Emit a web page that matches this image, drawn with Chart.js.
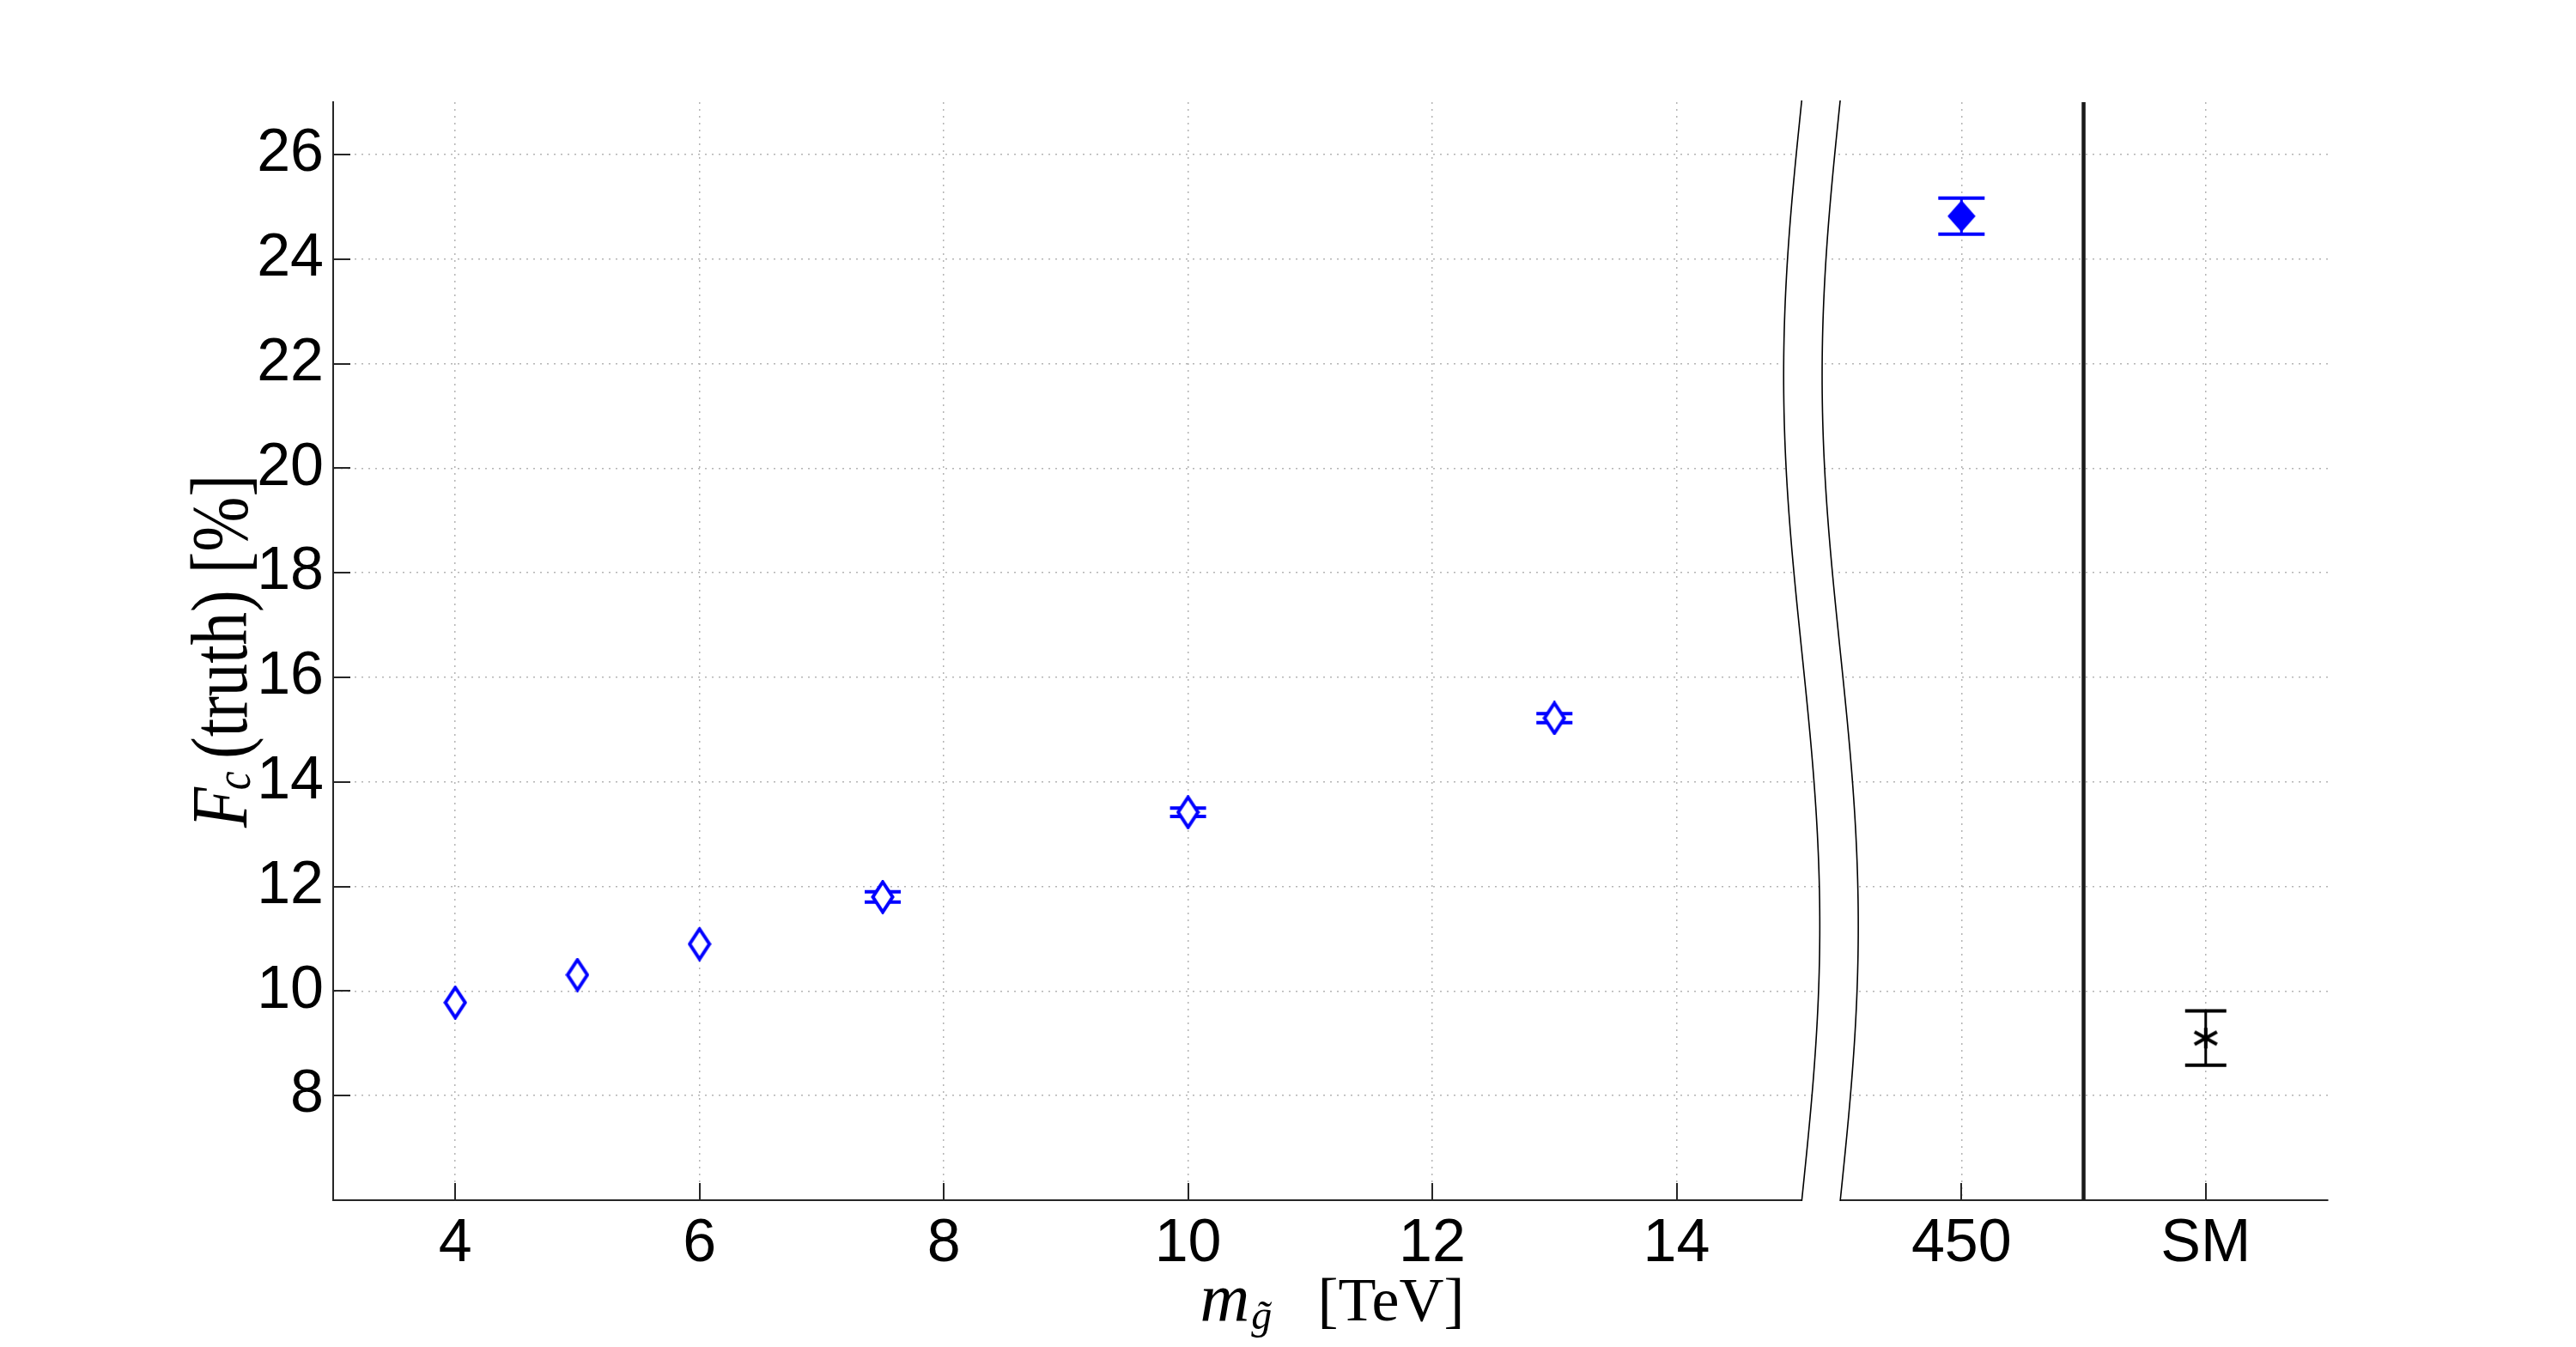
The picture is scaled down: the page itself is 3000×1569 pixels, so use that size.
<!DOCTYPE html>
<html>
<head>
<meta charset="utf-8">
<script src="https://cdn.jsdelivr.net/npm/chart.js@4.4.0/dist/chart.umd.min.js"></script>
<style>
html,body{margin:0;padding:0;background:#fff;}
canvas{display:block;}
</style>
</head>
<body>
<canvas id="fc-chart" width="3000" height="1569"></canvas>
<script>
// F_c(truth) vs gluino mass; 450 and SM sit right of the axis break
const massX   = [4, 5, 6, 7.5, 10, 13];
const fcTruth = [9.78, 10.31, 10.90, 11.80, 13.42, 15.22];
const fcErr   = [0, 0, 0, 0.10, 0.08, 0.085];
const heavyX   = [16.333];
const heavyFc  = [24.82];
const heavyErr = [0.345];
const smX   = [18.333];
const smFc  = [9.10];
const smErr = [0.52];

const xTickValues = [4, 6, 8, 10, 12, 14, 16.333, 18.333];
const xTickLabels = ['4', '6', '8', '10', '12', '14', '450', 'SM'];
const yTickValues = [8, 10, 12, 14, 16, 18, 20, 22, 24, 26];
const xRange = [3, 19.333];
const yRange = [6, 27];
const splitX = 17.333;            // solid line between 450 and SM
const breakX = [15.025, 15.34];   // edges of the axis break band
const breakAmp = 0.148;           // wiggle of the break, x units

const xTitle = ['m', 'g\u0303', '[TeV]'];
const yTitle = ['F', 'c', '(truth) [%]'];

const BLUE = '#0000ff';
const AXIS = '#262626';
const sans = '"Liberation Sans", Arial, Helvetica, sans-serif';
const serif = '"Liberation Serif", "DejaVu Serif", serif';

function diamond(w, h, lw, fill){
  const c = document.createElement('canvas'); c.width = w; c.height = h;
  const g = c.getContext('2d'), p = lw/2 + 0.5;
  g.beginPath();
  g.moveTo(w/2, p); g.lineTo(w-p, h/2); g.lineTo(w/2, h-p); g.lineTo(p, h/2);
  g.closePath();
  g.fillStyle = fill; g.fill();
  g.lineWidth = lw; g.strokeStyle = BLUE; g.stroke();
  return c;
}
function asterisk(w, h, lw){
  const c = document.createElement('canvas'); c.width = w; c.height = h;
  const g = c.getContext('2d');
  g.strokeStyle = '#000'; g.lineWidth = lw; g.lineCap = 'butt';
  g.beginPath();
  g.moveTo(w/2, 1); g.lineTo(w/2, h-1);
  g.moveTo(2, h*0.22); g.lineTo(w-2, h*0.78);
  g.moveTo(2, h*0.78); g.lineTo(w-2, h*0.22);
  g.stroke();
  return c;
}

const toPts = (xs, ys) => xs.map((x, i) => ({x: x, y: ys[i]}));

// error bars drawn under the markers
const errorBars = {
  id: 'errorBars',
  beforeDatasetsDraw(chart){
    const {ctx, scales: {x, y}} = chart;
    chart.data.datasets.forEach(ds => {
      if(!ds.errors) return;
      ctx.save();
      ctx.strokeStyle = ds.errColor;
      ds.data.forEach((p, i) => {
        const e = ds.errors[i]; if(!e) return;
        const px = x.getPixelForValue(p.x);
        const t = y.getPixelForValue(p.y + e), b = y.getPixelForValue(p.y - e);
        ctx.lineWidth = 3;
        ctx.beginPath(); ctx.moveTo(px, t); ctx.lineTo(px, b); ctx.stroke();
        ctx.lineWidth = 4;
        ctx.beginPath();
        ctx.moveTo(px - ds.capHalf, t); ctx.lineTo(px + ds.capHalf, t);
        ctx.moveTo(px - ds.capHalf, b); ctx.lineTo(px + ds.capHalf, b);
        ctx.stroke();
      });
      ctx.restore();
    });
  }
};

// inside tick marks, axis break and the separator line
const frame = {
  id: 'frame',
  afterDatasetsDraw(chart){
    const {ctx, chartArea: a, scales: {x, y}} = chart;
    ctx.save();
    ctx.strokeStyle = AXIS; ctx.lineWidth = 2;
    ctx.beginPath();
    yTickValues.forEach(v => { const py = Math.round(y.getPixelForValue(v)); ctx.moveTo(a.left, py); ctx.lineTo(a.left + 20, py); });
    xTickValues.forEach(v => { const px = Math.round(x.getPixelForValue(v)); ctx.moveTo(px, a.bottom); ctx.lineTo(px, a.bottom - 20); });
    ctx.stroke();

    const sx = x.getPixelForValue(splitX);
    ctx.strokeStyle = '#1a1a1a'; ctx.lineWidth = 4.5;
    ctx.beginPath(); ctx.moveTo(sx, a.top); ctx.lineTo(sx, a.bottom); ctx.stroke();

    const x0 = x.getPixelForValue(breakX[0]), x1 = x.getPixelForValue(breakX[1]);
    const amp = x.getPixelForValue(breakX[0] + breakAmp) - x0;
    const top = a.top - 2, bot = a.bottom + 1, n = 120;
    const cx = (base, t) => base - amp*Math.sin(2*Math.PI*t);
    ctx.beginPath();
    for(let i = 0; i <= n; i++){ const t = i/n, yy = top + (bot-top)*t; i ? ctx.lineTo(cx(x0, t), yy) : ctx.moveTo(cx(x0, t), yy); }
    for(let i = n; i >= 0; i--){ const t = i/n; ctx.lineTo(cx(x1, t), top + (bot-top)*t); }
    ctx.closePath(); ctx.fillStyle = '#fff'; ctx.fill();
    ctx.strokeStyle = '#000'; ctx.lineWidth = 1.6;
    [x0, x1].forEach(b => {
      ctx.beginPath();
      for(let i = 0; i <= n; i++){ const t = i/n, yy = top + (bot-top)*t; i ? ctx.lineTo(cx(b, t), yy) : ctx.moveTo(cx(b, t), yy); }
      ctx.stroke();
    });
    ctx.restore();
  }
};

// LaTeX-like axis titles with subscripts
const axisTitles = {
  id: 'axisTitles',
  afterDraw(chart){
    const {ctx, chartArea: a} = chart;
    ctx.save();
    ctx.fillStyle = '#000'; ctx.textAlign = 'left'; ctx.textBaseline = 'alphabetic';
    const mid = (a.left + a.right)/2;
    let bx = mid - 152; const by = a.bottom + 140;
    ctx.font = 'italic 80px ' + serif; ctx.fillText(xTitle[0], bx, by);
    bx += ctx.measureText(xTitle[0]).width + 2;
    ctx.font = 'italic 48px ' + serif; ctx.fillText(xTitle[1], bx, by + 10);
    ctx.font = '72px ' + serif; ctx.fillText(xTitle[2], mid - 15, by);

    const f1 = 'italic 94px ' + serif, f2 = 'italic 60px ' + serif, f3 = '94px ' + serif;
    ctx.font = f1; const w1 = ctx.measureText(yTitle[0]).width;
    ctx.font = f2; const w2 = ctx.measureText(yTitle[1]).width;
    ctx.font = f3; const w3 = ctx.measureText(yTitle[2]).width;
    const gap = 14, total = w1 + w2 + gap + w3, len = 411, s = len/total;
    const cy = (a.top + a.bottom)/2;
    ctx.translate(a.left - 101, cy + len/2);
    ctx.rotate(-Math.PI/2);
    ctx.scale(s, 1);
    ctx.font = f1; ctx.fillText(yTitle[0], 0, 0);
    ctx.font = f2; ctx.fillText(yTitle[1], w1 - 4, 4);
    ctx.font = f3; ctx.fillText(yTitle[2], w1 + w2 + gap, 0);
    ctx.restore();
  }
};

new Chart(document.getElementById('fc-chart'), {
  type: 'scatter',
  data: {
    datasets: [
      {label: 'm_g', data: toPts(massX, fcTruth), errors: fcErr, errColor: BLUE, capHalf: 21,
       pointStyle: diamond(28, 40, 4, '#fff'), pointRadius: 20},
      {label: '450', data: toPts(heavyX, heavyFc), errors: heavyErr, errColor: BLUE, capHalf: 27,
       pointStyle: diamond(33, 37, 2, BLUE), pointRadius: 19},
      {label: 'SM', data: toPts(smX, smFc), errors: smErr, errColor: '#000', capHalf: 24,
       pointStyle: asterisk(30, 26, 4), pointRadius: 15}
    ]
  },
  options: {
    responsive: false,
    animation: false,
    layout: {padding: {left: 0, right: 289, top: 119, bottom: 0}},
    plugins: {legend: {display: false}, tooltip: {enabled: false}},
    scales: {
      x: {
        type: 'linear', min: xRange[0], max: xRange[1],
        afterBuildTicks: s => { s.ticks = xTickValues.map(v => ({value: v})); },
        afterFit: s => { s.height = 171; },
        ticks: {callback: (v, i) => xTickLabels[i], font: {family: sans, size: 70}, color: '#000', padding: 10, maxRotation: 0, autoSkip: false},
        grid: {color: '#b4b4b4', lineWidth: 1.5, drawTicks: false},
        border: {display: true, color: AXIS, width: 2, dash: [2, 6]}
      },
      y: {
        type: 'linear', min: yRange[0], max: yRange[1],
        afterBuildTicks: s => { s.ticks = yTickValues.map(v => ({value: v})); },
        afterFit: s => { s.width = 388; },
        ticks: {font: {family: sans, size: 70}, color: '#000', padding: 11},
        grid: {color: '#b4b4b4', lineWidth: 1.5, drawTicks: false},
        border: {display: true, color: AXIS, width: 2, dash: [2, 6]}
      }
    }
  },
  plugins: [errorBars, frame, axisTitles]
});
</script>
</body>
</html>
